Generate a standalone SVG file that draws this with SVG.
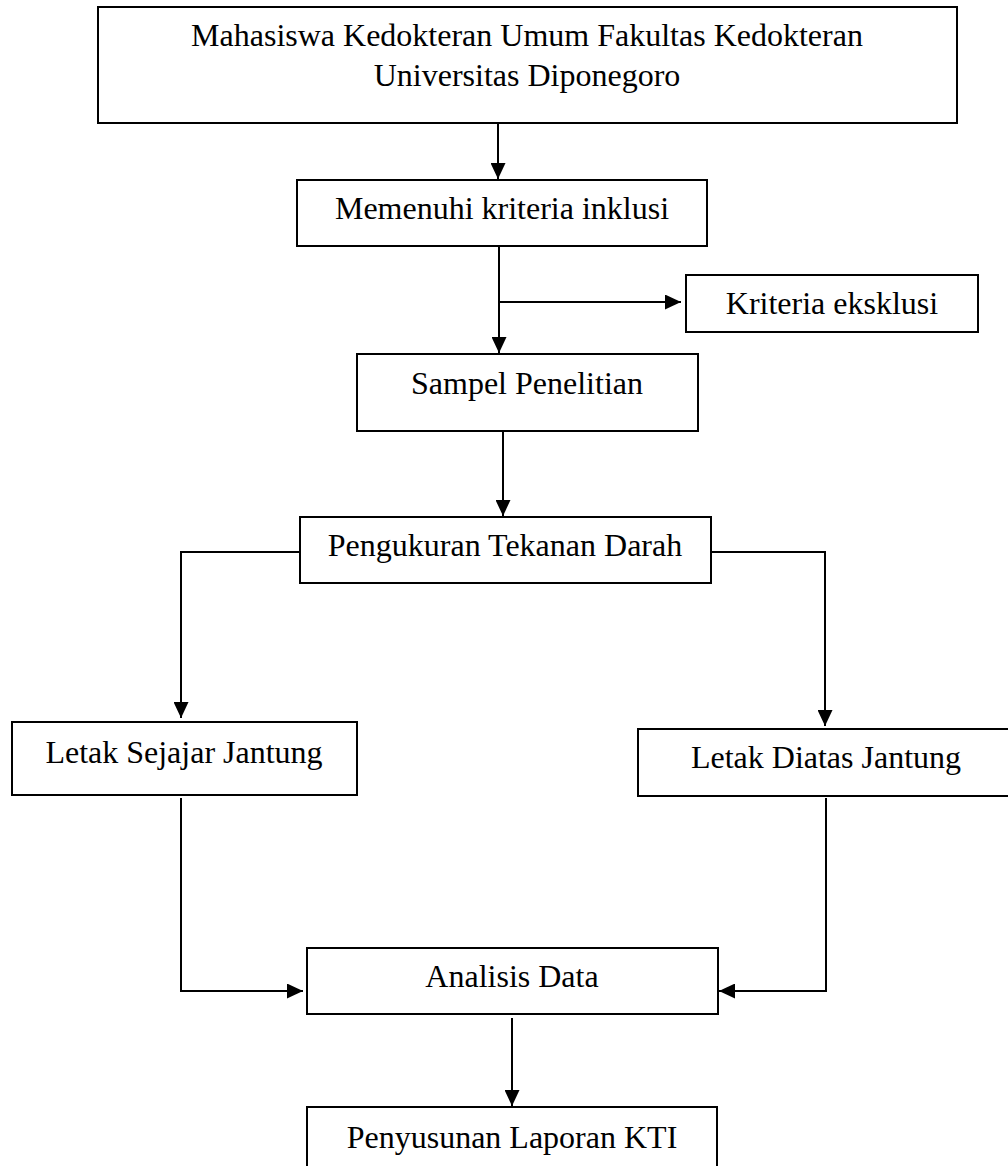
<svg xmlns="http://www.w3.org/2000/svg" width="1008" height="1166" viewBox="0 0 1008 1166">
<defs>
<style>
.box{fill:#fff;stroke:#000;stroke-width:2}
.t{font-family:"Liberation Serif","Times New Roman",serif;font-size:32px;fill:#000;text-anchor:middle}
.c{fill:none;stroke:#000;stroke-width:2}
</style>
<marker id="ah" markerUnits="userSpaceOnUse" markerWidth="16" markerHeight="15" refX="16" refY="7.5" orient="auto">
<path d="M0,0 L16,7.5 L0,15 z" fill="#000"/>
</marker>
</defs>
<rect width="1008" height="1166" fill="#fff"/>
<g id="connectors">
<line class="c" x1="498" y1="124" x2="498" y2="179" marker-end="url(#ah)"/>
<line class="c" x1="499" y1="247" x2="499" y2="353" marker-end="url(#ah)"/>
<line class="c" x1="499" y1="302" x2="681" y2="302" marker-end="url(#ah)"/>
<line class="c" x1="503" y1="432" x2="503" y2="516" marker-end="url(#ah)"/>
<polyline class="c" points="300,552 181,552 181,718" marker-end="url(#ah)"/>
<polyline class="c" points="711,552 825,552 825,726" marker-end="url(#ah)"/>
<polyline class="c" points="181,798 181,991 303,991" marker-end="url(#ah)"/>
<polyline class="c" points="826,798 826,991 719,991" marker-end="url(#ah)"/>
<line class="c" x1="512" y1="1018" x2="512" y2="1106" marker-end="url(#ah)"/>
</g>
<g id="n1"><rect class="box" x="98" y="7" width="859" height="116"/>
<text class="t" x="527" y="46">Mahasiswa Kedokteran Umum Fakultas Kedokteran</text>
<text class="t" x="527" y="86">Universitas Diponegoro</text></g>
<g id="n2"><rect class="box" x="297" y="180" width="410" height="66"/>
<text class="t" x="502" y="219">Memenuhi kriteria inklusi</text></g>
<g id="n3"><rect class="box" x="686" y="275" width="292" height="57"/>
<text class="t" x="832" y="314">Kriteria eksklusi</text></g>
<g id="n4"><rect class="box" x="357" y="354" width="341" height="77"/>
<text class="t" x="527" y="394">Sampel Penelitian</text></g>
<g id="n5"><rect class="box" x="300" y="517" width="411" height="66"/>
<text class="t" x="505" y="556">Pengukuran Tekanan Darah</text></g>
<g id="n6"><rect class="box" x="12" y="722" width="345" height="73"/>
<text class="t" x="184" y="763">Letak Sejajar Jantung</text></g>
<g id="n7"><rect class="box" x="638" y="729" width="376" height="67"/>
<text class="t" x="826" y="768">Letak Diatas Jantung</text></g>
<g id="n8"><rect class="box" x="307" y="948" width="411" height="66"/>
<text class="t" x="512" y="987">Analisis Data</text></g>
<g id="n9"><rect class="box" x="307" y="1107" width="410" height="80"/>
<text class="t" x="512" y="1148">Penyusunan Laporan KTI</text></g>
</svg>
